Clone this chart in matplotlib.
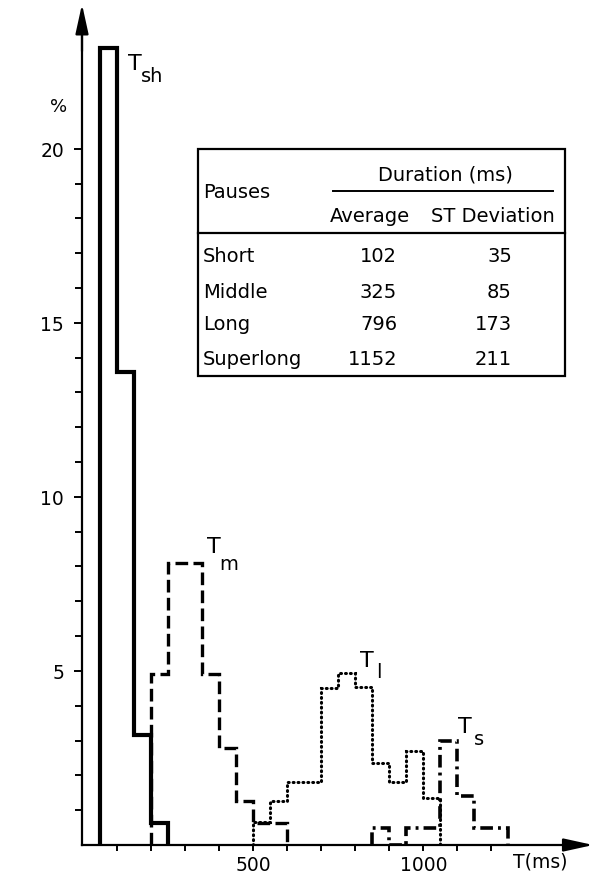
import matplotlib
matplotlib.use("Agg")
import matplotlib.pyplot as plt
from matplotlib.patches import Rectangle
from matplotlib.lines import Line2D

# ---------------- data ----------------
tsh_edges = [50, 100, 150, 200, 250]
tsh_vals = [22.9, 13.6, 3.15, 0.62]

tm_edges = [200, 250, 300, 350, 400, 450, 500, 550, 600]
tm_vals = [4.9, 8.1, 8.1, 4.9, 2.8, 1.25, 0.63, 0.63]

tl_edges = [500, 550, 600, 650, 700, 750, 800, 850, 900, 950, 1000, 1050]
tl_vals = [0.65, 1.25, 1.8, 1.8, 4.5, 4.95, 4.55, 2.35, 1.8, 2.7, 1.35]

ts_edges = [850, 900, 950, 1000, 1050, 1100, 1150, 1200, 1250]
ts_vals = [0.5, 0.0, 0.5, 0.5, 3.0, 1.4, 0.5, 0.5]

x_ticks = [100, 200, 300, 400, 500, 600, 700, 800, 900, 1000, 1100, 1200]
x_ticklabels = ["", "", "", "", "500", "", "", "", "", "1000", "", ""]
y_major = [5, 10, 15, 20]
y_major_labels = ["5", "10", "15", "20"]
y_minor = list(range(1, 21))

curve_subs = ["sh", "m", "l", "s"]

table_header = ["Pauses", "Duration (ms)", "Average", "ST Deviation"]
table_rows = ["Short", "Middle", "Long", "Superlong"]
table_avg = ["102", "325", "796", "1152"]
table_sd = ["35", "85", "173", "211"]

# ---------------- figure ----------------
plt.rcParams["font.family"] = ["DejaVu Sans"]

W, H = 607, 879
fig = plt.figure(figsize=(W / 100, H / 100), dpi=100)
ax = fig.add_axes([82 / W, (H - 846) / H, 518 / W, 846 / H])
ax.set_xlim(-4, 1520)
ax.set_ylim(0, 24.3)

for s in ["top", "right"]:
    ax.spines[s].set_visible(False)
ax.spines["left"].set_linewidth(1.6)
ax.spines["bottom"].set_linewidth(1.6)
ax.spines["left"].set_bounds(0, 23.6)
ax.spines["bottom"].set_bounds(-4, 1470)

ax.annotate("", xy=(-4, 24.15), xytext=(-4, 22.8),
            arrowprops=dict(arrowstyle="-|>,head_width=0.22,head_length=1.0",
                            color="k", lw=1.6,
                            mutation_scale=18, shrinkA=0, shrinkB=0),
            annotation_clip=False)
ax.annotate("", xy=(1500, 0), xytext=(1420, 0),
            arrowprops=dict(arrowstyle="-|>,head_width=0.22,head_length=1.0",
                            color="k", lw=1.6,
                            mutation_scale=18, shrinkA=0, shrinkB=0),
            annotation_clip=False)

ax.set_xticks(x_ticks)
ax.set_xticklabels(x_ticklabels, fontsize=13.5)
ax.set_yticks(y_major)
ax.set_yticklabels(y_major_labels, fontsize=13.5)
ax.set_yticks(y_minor, minor=True)
ax.tick_params(axis="x", direction="out", length=4, width=1.4, pad=3)
ax.tick_params(axis="y", which="major", direction="out", length=6, width=1.4, pad=7)
ax.tick_params(axis="y", which="minor", direction="out", length=5, width=1.4)

# histograms
ax.stairs(tsh_vals, tsh_edges, baseline=0, color="k", lw=3.0, zorder=4)
ax.stairs(tm_vals, tm_edges, baseline=0, color="k", lw=2.4,
          linestyle=(0, (3.8, 1.6)), zorder=3)
ax.stairs(tl_vals, tl_edges, baseline=0, color="k", lw=2.2,
          linestyle=(0, (0.3, 1.3)), capstyle="round", zorder=3)
ax.stairs(ts_vals, ts_edges, baseline=0, color="k", lw=2.6,
          linestyle=(0, (3.5, 1.4, 0.8, 1.4)), zorder=3)

# curve labels: main "T" and a large subscript
label_T = [(131, 22.3), (364, 8.42), (814, 5.14), (1102, 3.25)]
label_sub = [(170, 21.95), (399, 7.93), (860, 4.83), (1148, 2.9)]
for (tx, ty), (sx, sy), sub in zip(label_T, label_sub, curve_subs):
    ax.text(tx, ty, "T", fontsize=16, ha="left", va="baseline")
    ax.text(sx, sy, sub, fontsize=14, ha="left", va="baseline")

# axis labels
def F(x, y):
    return (x / W, 1 - y / H)

fig.text(*F(59, 107), "%", fontsize=13, ha="center", va="center")
fig.text(*F(540, 862), "T(ms)", fontsize=13.5, ha="center", va="center")

# ---------------- table ----------------
x0, y0, x1, y1 = 198, 150, 565, 377
rect = Rectangle(F(x0, y1), (x1 - x0) / W, (y1 - y0) / H,
                 transform=fig.transFigure, fill=False, lw=1.6, ec="k")
fig.add_artist(rect)
fig.add_artist(Line2D([x0 / W, x1 / W], [1 - 234 / H, 1 - 234 / H],
                      transform=fig.transFigure, color="k", lw=1.6))
fig.add_artist(Line2D([333 / W, 553 / W], [1 - 192 / H, 1 - 192 / H],
                      transform=fig.transFigure, color="k", lw=1.4))

tfs = 14
fig.text(*F(203, 193), table_header[0], fontsize=tfs, ha="left", va="center")
fig.text(*F(445, 175), table_header[1], fontsize=tfs, ha="center", va="center")
fig.text(*F(370, 217), table_header[2], fontsize=tfs, ha="center", va="center")
fig.text(*F(493, 217), table_header[3], fontsize=tfs, ha="center", va="center")
row_y = [257, 292, 325, 360]
for ry, name, a, s in zip(row_y, table_rows, table_avg, table_sd):
    fig.text(*F(203, ry), name, fontsize=tfs, ha="left", va="center")
    fig.text(*F(397, ry), a, fontsize=tfs, ha="right", va="center")
    fig.text(*F(512, ry), s, fontsize=tfs, ha="right", va="center")

fig.savefig("out.png", dpi=100)
